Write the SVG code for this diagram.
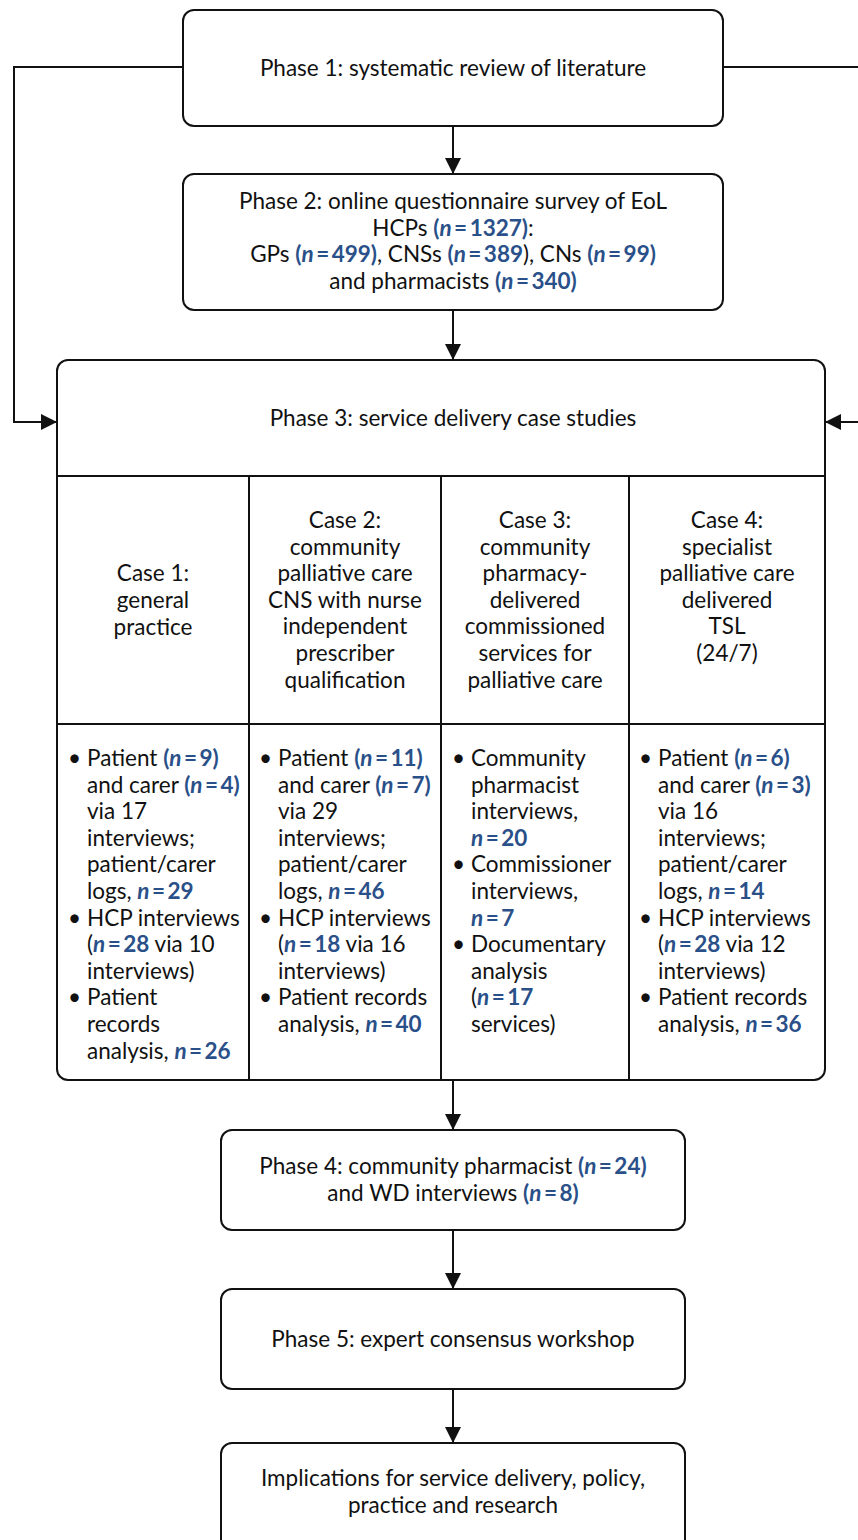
<svg xmlns="http://www.w3.org/2000/svg" width="858" height="1540" viewBox="0 0 858 1540">
<defs>
<style>
text{font-family:Lato,"Noto Sans","Liberation Sans",sans-serif;font-size:22.5px;fill:#111}
.c{text-anchor:middle}
.b{font-weight:bold;fill:#2a5089;word-spacing:-3px}
.i{font-style:italic}
.box{fill:#fff;stroke:#111;stroke-width:2}
.ln{fill:none;stroke:#111;stroke-width:2}
</style>
<marker id="ah2" viewBox="0 0 16 16" refX="16" refY="8" markerWidth="16" markerHeight="16" markerUnits="userSpaceOnUse" orient="auto">
<path d="M0,0 L16,8 L0,16 z" fill="#111"/>
</marker>
</defs>
<g id="connectors">
<path class="ln" d="M183,67 H14 V422 H57" marker-end="url(#ah2)"/>
<path class="ln" d="M723,67 H862 V422 H825" marker-end="url(#ah2)"/>
<path class="ln" d="M453,126 V174" marker-end="url(#ah2)"/>
<path class="ln" d="M453,310 V360" marker-end="url(#ah2)"/>
<path class="ln" d="M453,1080 V1130" marker-end="url(#ah2)"/>
<path class="ln" d="M453,1230 V1289" marker-end="url(#ah2)"/>
<path class="ln" d="M453,1389 V1443" marker-end="url(#ah2)"/>
</g>
<g id="phase1">
<rect class="box" x="183" y="10" width="540" height="116" rx="11"/>
<text class="c" x="453" y="76">Phase 1: systematic review of literature</text>
</g>
<g id="phase2">
<rect class="box" x="183" y="174" width="540" height="136" rx="11"/>
<text class="c" x="453" y="209">Phase 2: online questionnaire survey of EoL</text>
<text class="c" x="453" y="235.5">HCPs <tspan class="b">(<tspan class="i">n</tspan> = 1327)</tspan>:</text>
<text class="c" x="453" y="262">GPs <tspan class="b">(<tspan class="i">n</tspan> = 499)</tspan>, CNSs <tspan class="b">(<tspan class="i">n</tspan> = 389</tspan>), CNs <tspan class="b">(<tspan class="i">n</tspan> = 99)</tspan></text>
<text class="c" x="453" y="289">and pharmacists <tspan class="b">(<tspan class="i">n</tspan> = 340)</tspan></text>
</g>
<g id="phase3">
<rect class="box" x="57" y="360" width="768" height="720" rx="11"/>
<path class="ln" d="M57,476 H825 M57,724 H825 M249,476 V1080 M441,476 V1080 M629,476 V1080"/>
<text class="c" x="453" y="426">Phase 3: service delivery case studies</text>
<g id="case1">
<text class="c" x="153" y="581">Case 1:</text>
<text class="c" x="153" y="608">general</text>
<text class="c" x="153" y="635">practice</text>
</g>
<g id="case2">
<text class="c" x="345" y="528">Case 2:</text>
<text class="c" x="345" y="554.6">community</text>
<text class="c" x="345" y="581.2">palliative care</text>
<text class="c" x="345" y="607.8">CNS with nurse</text>
<text class="c" x="345" y="634.4">independent</text>
<text class="c" x="345" y="661">prescriber</text>
<text class="c" x="345" y="687.6">qualification</text>
</g>
<g id="case3">
<text class="c" x="535" y="528">Case 3:</text>
<text class="c" x="535" y="554.6">community</text>
<text class="c" x="535" y="581.2">pharmacy-</text>
<text class="c" x="535" y="607.8">delivered</text>
<text class="c" x="535" y="634.4">commissioned</text>
<text class="c" x="535" y="661">services for</text>
<text class="c" x="535" y="687.6">palliative care</text>
</g>
<g id="case4">
<text class="c" x="727" y="528">Case 4:</text>
<text class="c" x="727" y="554.6">specialist</text>
<text class="c" x="727" y="581.2">palliative care</text>
<text class="c" x="727" y="607.8">delivered</text>
<text class="c" x="727" y="634.4">TSL</text>
<text class="c" x="727" y="661">(24/7)</text>
</g>
<g id="case1-data">
<text x="68" y="766">•</text>
<text x="87" y="766">Patient <tspan class="b">(<tspan class="i">n</tspan> = 9)</tspan></text>
<text x="87" y="792.6">and carer <tspan class="b">(<tspan class="i">n</tspan> = 4)</tspan></text>
<text x="87" y="819.2">via 17</text>
<text x="87" y="845.8">interviews;</text>
<text x="87" y="872.4">patient/carer</text>
<text x="87" y="899">logs, <tspan class="b"><tspan class="i">n</tspan> = 29</tspan></text>
<text x="68" y="925.6">•</text>
<text x="87" y="925.6">HCP interviews</text>
<text x="87" y="952.2">(<tspan class="b"><tspan class="i">n</tspan> = 28</tspan> via 10</text>
<text x="87" y="978.8">interviews)</text>
<text x="68" y="1005.4">•</text>
<text x="87" y="1005.4">Patient</text>
<text x="87" y="1032">records</text>
<text x="87" y="1058.6">analysis, <tspan class="b"><tspan class="i">n</tspan> = 26</tspan></text>
</g>
<g id="case2-data">
<text x="259" y="766">•</text>
<text x="278" y="766">Patient <tspan class="b">(<tspan class="i">n</tspan> = 11)</tspan></text>
<text x="278" y="792.6">and carer <tspan class="b">(<tspan class="i">n</tspan> = 7)</tspan></text>
<text x="278" y="819.2">via 29</text>
<text x="278" y="845.8">interviews;</text>
<text x="278" y="872.4">patient/carer</text>
<text x="278" y="899">logs, <tspan class="b"><tspan class="i">n</tspan> = 46</tspan></text>
<text x="259" y="925.6">•</text>
<text x="278" y="925.6">HCP interviews</text>
<text x="278" y="952.2">(<tspan class="b"><tspan class="i">n</tspan> = 18</tspan> via 16</text>
<text x="278" y="978.8">interviews)</text>
<text x="259" y="1005.4">•</text>
<text x="278" y="1005.4">Patient records</text>
<text x="278" y="1032">analysis, <tspan class="b"><tspan class="i">n</tspan> = 40</tspan></text>
</g>
<g id="case3-data">
<text x="452" y="766">•</text>
<text x="471" y="766">Community</text>
<text x="471" y="792.6">pharmacist</text>
<text x="471" y="819.2">interviews,</text>
<text x="471" y="845.8"><tspan class="b"><tspan class="i">n</tspan> = 20</tspan></text>
<text x="452" y="872.4">•</text>
<text x="471" y="872.4">Commissioner</text>
<text x="471" y="899">interviews,</text>
<text x="471" y="925.6"><tspan class="b"><tspan class="i">n</tspan> = 7</tspan></text>
<text x="452" y="952.2">•</text>
<text x="471" y="952.2">Documentary</text>
<text x="471" y="978.8">analysis</text>
<text x="471" y="1005.4">(<tspan class="b"><tspan class="i">n</tspan> = 17</tspan></text>
<text x="471" y="1032">services)</text>
</g>
<g id="case4-data">
<text x="639" y="766">•</text>
<text x="658" y="766">Patient <tspan class="b">(<tspan class="i">n</tspan> = 6)</tspan></text>
<text x="658" y="792.6">and carer <tspan class="b">(<tspan class="i">n</tspan> = 3)</tspan></text>
<text x="658" y="819.2">via 16</text>
<text x="658" y="845.8">interviews;</text>
<text x="658" y="872.4">patient/carer</text>
<text x="658" y="899">logs, <tspan class="b"><tspan class="i">n</tspan> = 14</tspan></text>
<text x="639" y="925.6">•</text>
<text x="658" y="925.6">HCP interviews</text>
<text x="658" y="952.2">(<tspan class="b"><tspan class="i">n</tspan> = 28</tspan> via 12</text>
<text x="658" y="978.8">interviews)</text>
<text x="639" y="1005.4">•</text>
<text x="658" y="1005.4">Patient records</text>
<text x="658" y="1032">analysis, <tspan class="b"><tspan class="i">n</tspan> = 36</tspan></text>
</g>
</g>
<g id="phase4">
<rect class="box" x="221" y="1130" width="464" height="100" rx="11"/>
<text class="c" x="453" y="1174">Phase 4: community pharmacist <tspan class="b">(<tspan class="i">n</tspan> = 24)</tspan></text>
<text class="c" x="453" y="1201">and WD interviews <tspan class="b">(<tspan class="i">n</tspan> = 8)</tspan></text>
</g>
<g id="phase5">
<rect class="box" x="221" y="1289" width="464" height="100" rx="11"/>
<text class="c" x="453" y="1347">Phase 5: expert consensus workshop</text>
</g>
<g id="implications">
<rect class="box" x="221" y="1443" width="464" height="110" rx="11"/>
<text class="c" x="453" y="1486">Implications for service delivery, policy,</text>
<text class="c" x="453" y="1513">practice and research</text>
</g>
</svg>
